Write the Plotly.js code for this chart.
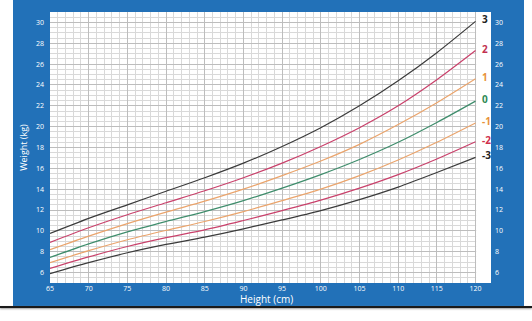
<!DOCTYPE html>
<html>
<head>
<meta charset="utf-8">
<script src="https://cdn.plot.ly/plotly-3.0.1.min.js"></script>
<style>
html,body{margin:0;padding:0;background:#fff;width:532px;height:321px;overflow:hidden;}
#chart{position:absolute;left:13px;top:0;width:511px;height:306px;overflow:hidden;}
#rule{position:absolute;left:0;top:306px;width:532px;height:2px;background:#1a1a1a;box-shadow:0 1px 2px #999;}
</style>
</head>
<body>
<div id="chart"></div>
<div id="rule"></div>
<script>
// Height (cm)
const heights = [65, 70, 75, 80, 85, 90, 95, 100, 105, 110, 115, 120];
// Weight (kg) per z-score curve
const zPlus3  = [9.75, 11.2, 12.5, 13.8, 15.1, 16.5, 18.1, 19.9, 22.0, 24.4, 27.1, 30.1];
const zPlus2  = [8.9, 10.3, 11.55, 12.7, 13.85, 15.1, 16.5, 18.1, 19.9, 22.0, 24.5, 27.3];
const zPlus1  = [8.2, 9.5, 10.7, 11.8, 12.85, 14.0, 15.3, 16.7, 18.3, 20.2, 22.3, 24.6];
const zMedian = [7.45, 8.75, 9.9, 10.9, 11.85, 12.9, 14.1, 15.4, 16.85, 18.5, 20.4, 22.45];
const zMinus1 = [6.95, 8.1, 9.15, 10.05, 10.9, 11.85, 12.9, 14.0, 15.3, 16.8, 18.5, 20.35];
const zMinus2 = [6.4, 7.5, 8.5, 9.35, 10.1, 11.0, 11.95, 12.95, 14.1, 15.4, 16.9, 18.55];
const zMinus3 = [5.9, 6.95, 7.9, 8.7, 9.4, 10.2, 11.05, 11.95, 13.0, 14.2, 15.6, 17.05];
const curveLabels = ['3', '2', '1', '0', '-1', '-2', '-3'];
const xTicks = [65, 70, 75, 80, 85, 90, 95, 100, 105, 110, 115, 120];
const yTicks = [6, 8, 10, 12, 14, 16, 18, 20, 22, 24, 26, 28, 30];

const series = [zPlus3, zPlus2, zPlus1, zMedian, zMinus1, zMinus2, zMinus3];
const lineColors = ['#3b3b3b', '#c9416b', '#eaa46c', '#3f8d6c', '#eaa46c', '#c9416b', '#3b3b3b'];
const labelColors = ['#222222', '#c2304f', '#e8923a', '#2e8a55', '#e8923a', '#d0304c', '#222222'];

const traces = series.map((ys, i) => ({
  x: heights, y: ys, type: 'scatter', mode: 'lines',
  line: {color: lineColors[i], width: 1.2, shape: 'spline', smoothing: 0.8},
  hoverinfo: 'skip', showlegend: false
}));
// invisible trace to carry the right-hand axis
traces.push({x: heights, y: zMedian, yaxis: 'y2', type: 'scatter', mode: 'lines',
  line: {width: 0}, opacity: 0, hoverinfo: 'skip', showlegend: false});

const annotations = series.map((ys, i) => ({
  x: heights[heights.length - 1], y: ys[ys.length - 1], xref: 'x', yref: 'y',
  text: '<b>' + curveLabels[i] + '</b>', showarrow: false,
  xanchor: 'left', yanchor: 'middle', xshift: 4, yshift: 2,
  font: {family: 'Open Sans, sans-serif', size: 10, color: labelColors[i]}
}));
// x-axis title near the lower frame edge
annotations.push({
  xref: 'paper', yref: 'paper', x: 0.5, y: 0, yshift: -16, xshift: -4,
  xanchor: 'center', yanchor: 'middle', showarrow: false,
  text: 'Height (cm)', font: {family: 'Open Sans, sans-serif', size: 10, color: '#ffffff'}
});

const tickFont = {family: 'Open Sans, sans-serif', size: 7, color: '#ffffff'};
const yRange = [5, 31];

const layout = {
  width: 511, height: 306,
  margin: {l: 37, r: 33, t: 12, b: 23},
  paper_bgcolor: '#2271b8',
  plot_bgcolor: '#ffffff',
  showlegend: false,
  xaxis: {
    range: [65, 122], tickvals: xTicks, ticktext: xTicks.map(String),
    showgrid: true, gridcolor: '#bdbdbd', gridwidth: 1,
    minor: {dtick: 1, tick0: 65, showgrid: true, gridcolor: '#d9d9d9', gridwidth: 1},
    zeroline: false, showline: false, ticks: '', tickfont: tickFont,
    fixedrange: true
  },
  yaxis: {
    range: yRange, tickvals: yTicks, ticktext: yTicks.map(String),
    showgrid: true, gridcolor: '#bdbdbd', gridwidth: 1,
    minor: {dtick: 0.5, tick0: 5, showgrid: true, gridcolor: '#d9d9d9', gridwidth: 1},
    zeroline: false, showline: false, ticks: '', tickfont: tickFont, ticklabelstandoff: 5,
    title: {text: 'Weight (kg)', font: {family: 'Open Sans, sans-serif', size: 9, color: '#ffffff'}, standoff: 6},
    fixedrange: true
  },
  yaxis2: {
    overlaying: 'y', side: 'right', range: yRange, tickvals: yTicks, ticktext: yTicks.map(String),
    showgrid: false, zeroline: false, showline: false, ticks: '', tickfont: tickFont,
    ticklabelstandoff: 3, fixedrange: true
  },
  shapes: [
    {type: 'rect', xref: 'x', yref: 'y domain', x0: 120.08, x1: 122, y0: 0, y1: 1,
     fillcolor: '#ffffff', line: {width: 0}, layer: 'above'}
  ],
  annotations: annotations
};

Plotly.newPlot('chart', traces, layout, {staticPlot: true, displayModeBar: false});
</script>
</body>
</html>
